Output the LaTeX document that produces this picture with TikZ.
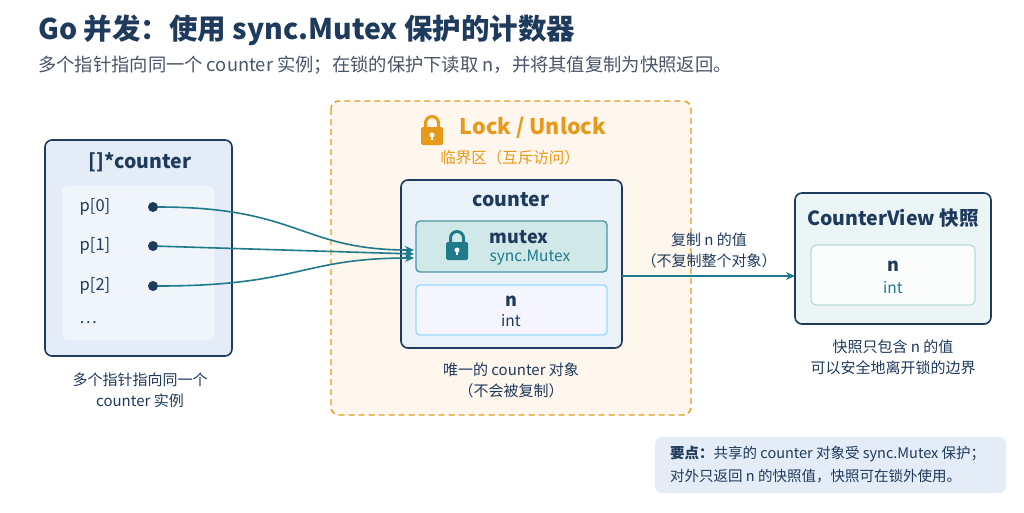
\documentclass[tikz,border=0pt]{standalone}
\usepackage{fontspec}
\setmainfont{Noto Sans CJK SC}
\usetikzlibrary{arrows.meta}
\definecolor{navy}{HTML}{1E3A5C}
\definecolor{teal2}{HTML}{1F7A8C}
\definecolor{orng}{HTML}{E79A1A}
\definecolor{gry}{HTML}{4A5568}
\definecolor{lblue}{HTML}{E4EDF7}
\begin{document}
\begin{tikzpicture}[x=1pt,y=-1pt,
  box/.style={draw=navy,line width=1.6pt,rounded corners=7pt},
  txt/.style={text=navy,inner sep=0pt},
  capt/.style={text=gry,inner sep=0pt,font=\fontsize{15}{21}\selectfont,align=center},
  bold/.style={font=\bfseries\fontsize{19.5}{22}\selectfont},
  dot/.style={circle,fill=navy,inner sep=0pt,minimum size=10pt},
  conn/.style={draw=teal2,line width=1.6pt,-{Stealth[length=9pt,width=8pt]}},
  lockicon/.pic={\fill[#1,rounded corners=1.5pt] (-11,-3) rectangle (11,15);
    \draw[#1,line width=3pt] (-6.5,-3) -- (-6.5,-7) arc(180:360:6.5) -- (6.5,-3);
    \fill[white] (0,5) circle (2.5); \fill[white] (-1.2,5) rectangle (1.2,10);}
]
\useasboundingbox (0,0) rectangle (1024,512);
\fill[white] (0,0) rectangle (1024,512);
\node[txt,anchor=west,font=\bfseries\fontsize{28.5}{32}\selectfont] (title) at (38,30) {Go 并发：使用 sync.Mutex 保护的计数器};
\node[txt,anchor=west,text=gry,font=\fontsize{18.3}{21}\selectfont] (sub) at (38,65) {多个指针指向同一个 counter 实例；在锁的保护下读取 n，并将其值复制为快照返回。};
% left
\draw[box,fill=lblue] (45,140) rectangle (232,356);
\node[txt,bold] (lt) at (140,162) {[]*counter};
\fill[white,opacity=0.45,rounded corners=6pt] (62,186) rectangle (214,340);
\node[txt,font=\fontsize{16.5}{18}\selectfont] (p0) at (95,207) {p[0]};
\node[txt,font=\fontsize{16.5}{18}\selectfont] (p1) at (95,246) {p[1]};
\node[txt,font=\fontsize{16.5}{18}\selectfont] (p2) at (95,286) {p[2]};
\node[txt,font=\fontsize{16.5}{18}\selectfont] (pd) at (88,323) {…};
\node[dot] (d0) at (153,207) {};
\node[dot] (d1) at (153,246) {};
\node[dot] (d2) at (153,286) {};
\node[capt,text=navy] (lc) at (140,390) {多个指针指向同一个\\counter 实例};
% lock region
\draw[draw=orng,fill=orange!7,line width=1.4pt,dash pattern=on 6pt off 4pt,rounded corners=8pt] (331,101) rectangle (691,415);
\pic at (432,130) {lockicon=orng};
\node[inner sep=0pt,text=orng,font=\bfseries\fontsize{21.5}{24}\selectfont] (lk) at (533,128) {Lock / Unlock};
\node[inner sep=0pt,text=orng,font=\fontsize{15.5}{18}\selectfont] (cs) at (510,158) {临界区（互斥访问）};
% counter
\draw[box,fill=lblue!80!white] (401,180) rectangle (622,348);
\node[txt,bold] (ct) at (511,200) {counter};
\draw[draw=teal2!80,fill=teal!18,line width=1.4pt,rounded corners=4pt] (416,221) rectangle (607,272);
\pic at (457,245) {lockicon=teal2};
\node[txt,font=\bfseries\fontsize{18}{20}\selectfont] (mx) at (519,237) {mutex};
\node[inner sep=0pt,text=teal2,font=\fontsize{15.5}{18}\selectfont] (sm) at (530,258) {sync.Mutex};
\draw[draw=blue!35!cyan!40,fill=blue!4,line width=1.4pt,rounded corners=4pt] (416,285) rectangle (607,335);
\node[txt,font=\bfseries\fontsize{18}{20}\selectfont] (nn) at (511,301) {n};
\node[txt,font=\fontsize{15.5}{18}\selectfont] (ni) at (511,321) {int};
\node[capt,text=navy] (cc) at (511,380) {唯一的 counter 对象\\（不会被复制）};
\coordinate (e0) at (414,250); \coordinate (e1) at (414,254); \coordinate (e2) at (414,258);
\draw[conn] (d0) .. controls (300,207) and (300,250) .. (e0);
\draw[conn] (d1) -- (e1);
\draw[conn] (d2) .. controls (300,286) and (300,258) .. (e2);
% right
\draw[box,fill=teal!8] (795,193) rectangle (991,324);
\node[txt,bold] (rt) at (893,218) {CounterView 快照};
\draw[draw=teal!35,fill=white,opacity=0.8,line width=1.2pt,rounded corners=5pt] (811,245) rectangle (975,305);
\node[txt,font=\bfseries\fontsize{18}{20}\selectfont] (rn) at (893,266) {n};
\node[inner sep=0pt,text=teal2,font=\fontsize{15.5}{18}\selectfont] (ri) at (893,288) {int};
\node[capt,text=navy] (rc) at (893,357) {快照只包含 n 的值\\可以安全地离开锁的边界};
\coordinate (cs1) at (622,276); \coordinate (cs2) at (795,276);
\draw[conn] (cs1) -- (cs2);
\node[capt,text=navy] (al) at (709,250) {复制 n 的值\\（不复制整个对象）};
% note
\fill[lblue,rounded corners=7pt] (655,437) rectangle (1006,493);
\node[txt,anchor=west,align=left,font=\fontsize{14.5}{23}\selectfont] (note) at (670,465) {\textbf{要点：}共享的 counter 对象受 sync.Mutex 保护；\\对外只返回 n 的快照值，快照可在锁外使用。};
\end{tikzpicture}
\end{document}
